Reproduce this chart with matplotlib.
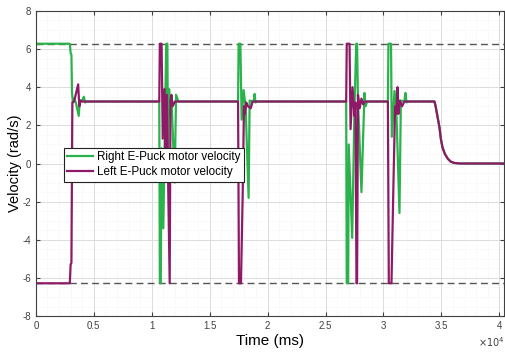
import numpy as np
import matplotlib
matplotlib.use('Agg')
from matplotlib import pyplot as plt
from matplotlib.ticker import MultipleLocator, AutoMinorLocator, FuncFormatter

plt.rcParams['font.family'] = ['Liberation Sans', 'DejaVu Sans']

# time (ms) / velocity (rad/s) breakpoints
decay_t = [34400, 34500, 34650, 34830, 34950, 35090, 35300, 35550, 35800, 36100, 36600, 40500]
decay_v = [3.25, 3.0, 2.5, 1.9, 1.3, 0.85, 0.5, 0.25, 0.1, 0.03, 0.0, 0.0]

right_t = [0, 2930, 3000, 3070, 3120, 3200, 3300, 3450, 3700, 3800, 3950, 4140, 4250, 4350,
           10650, 10700, 10780, 10850, 11000, 11250, 11350, 11400, 11500, 11600, 11700, 11980, 12100, 12300,
           17450, 17500, 17650, 17760, 17930, 18100, 18360, 18450, 18800, 18880, 18950, 19100,
           26780, 26830, 26950, 27000, 27300, 27500, 27650, 27720, 27800, 28100, 28360, 28450, 28600,
           30380, 30430, 30650, 30720, 30950, 31100, 31380, 31500, 31800, 31900, 31980, 32100] + decay_t
right_v = [6.28, 6.28, 5.8, 5.7, 3.7, 3.2, 3.4, 3.2, 2.5, 3.3, 3.25, 3.5, 3.2, 3.25,
           3.25, -6.28, -6.28, 0.8, -3.4, 6.28, 6.28, 0.8, 3.9, 2.5, 3.5, -1.0, 3.6, 3.25,
           3.25, 6.28, 6.28, 2.3, 3.85, 3.0, -1.8, 3.3, 3.25, 3.65, 3.2, 3.25,
           3.25, -6.28, -6.28, 1.0, -3.9, 3.0, 6.28, 6.28, 3.3, -1.5, 3.7, 3.0, 3.25,
           3.25, 6.28, 6.28, 1.4, 3.8, 3.0, -2.6, 3.3, 3.25, 3.7, 3.2, 3.25] + decay_v

left_t = [0, 2930, 3000, 3070, 3150, 3300, 3650, 3750, 3850, 4000,
          10650, 10700, 10850, 10950, 11100, 11200, 11300, 11550, 11620, 11700, 11800, 12000,
          17450, 17530, 17700, 17850, 17960, 18050, 18150, 18300, 18550, 18700,
          26780, 26830, 27070, 27160, 27330, 27500, 27580, 27670, 27720, 27800, 27950, 28100, 28250, 28400,
          30380, 30460, 30690, 30860, 31000, 31100, 31210, 31290, 31400, 31600, 31800] + decay_t
left_v = [-6.28, -6.28, -5.3, -5.2, 3.2, 3.25, 4.15, 3.0, 3.3, 3.25,
          3.25, 6.28, 6.28, 1.3, 3.9, 0.5, 3.6, -6.28, 3.3, 3.6, 3.0, 3.25,
          3.25, -6.28, -6.28, -1.6, 3.0, 2.6, 3.2, 3.0, 2.9, 3.25,
          3.25, 6.28, 6.28, 1.8, 4.0, 2.5, 3.2, -6.28, -6.28, 3.6, 2.9, 3.4, 3.1, 3.25,
          3.25, -6.28, -6.28, -1.05, 3.0, 2.6, 4.0, 2.6, 3.3, 3.0, 3.25] + decay_v

v_max = 6.28

fig = plt.figure(figsize=(5.05, 3.52), dpi=100)
ax = fig.add_axes([0.071, 0.102, 0.927, 0.867])

ax.axhline(v_max, color='#555555', linestyle=(0, (5, 3)), linewidth=1.0)
ax.axhline(-v_max, color='#555555', linestyle=(0, (5, 3)), linewidth=1.0)
ax.plot(right_t, right_v, color='#2bb34b', linewidth=1.6, label='Right E-Puck motor velocity')
ax.plot(left_t, left_v, color='#8e1a67', linewidth=1.6, label='Left E-Puck motor velocity')

ax.set_xlim(0, 40400)
ax.set_ylim(-8, 8)
ax.xaxis.set_major_locator(MultipleLocator(5000))
ax.xaxis.set_minor_locator(AutoMinorLocator(5))
ax.yaxis.set_major_locator(MultipleLocator(2))
ax.yaxis.set_minor_locator(AutoMinorLocator(4))
ax.xaxis.set_major_formatter(FuncFormatter(lambda x, p: '%g' % (x / 1e4)))
ax.yaxis.set_major_formatter(FuncFormatter(lambda y, p: '%g' % y))
fig.text(0.999, 0.028, r'$\times10^{4}$', ha='right', va='center', fontsize=7, color='#404040')

ax.grid(which='major', color='#dcdcdc', linewidth=0.7)
ax.grid(which='minor', color='#ececec', linewidth=0.5, linestyle=':')
ax.set_axisbelow(True)
ax.tick_params(which='both', direction='in', top=True, right=True, labelsize=7,
               labelcolor='#404040', color='#404040')
ax.tick_params(which='major', length=3)
ax.tick_params(which='minor', length=0)
for s in ax.spines.values():
    s.set_color('#404040')
    s.set_linewidth(0.8)

ax.set_xlabel('Time (ms)', fontsize=11, labelpad=2)
ax.set_ylabel('Velocity (rad/s)', fontsize=10.5)
ax.yaxis.set_label_coords(-0.03, 0.5)

leg = ax.legend(loc='upper left', bbox_to_anchor=(0.06, 0.552), fontsize=8.4, frameon=True,
                fancybox=False, edgecolor='#222222', framealpha=1, handlelength=2.2,
                borderpad=0.3, labelspacing=0.25, handletextpad=0.3, borderaxespad=0)
leg.get_frame().set_linewidth(0.8)

fig.savefig('out.png', dpi=100)
